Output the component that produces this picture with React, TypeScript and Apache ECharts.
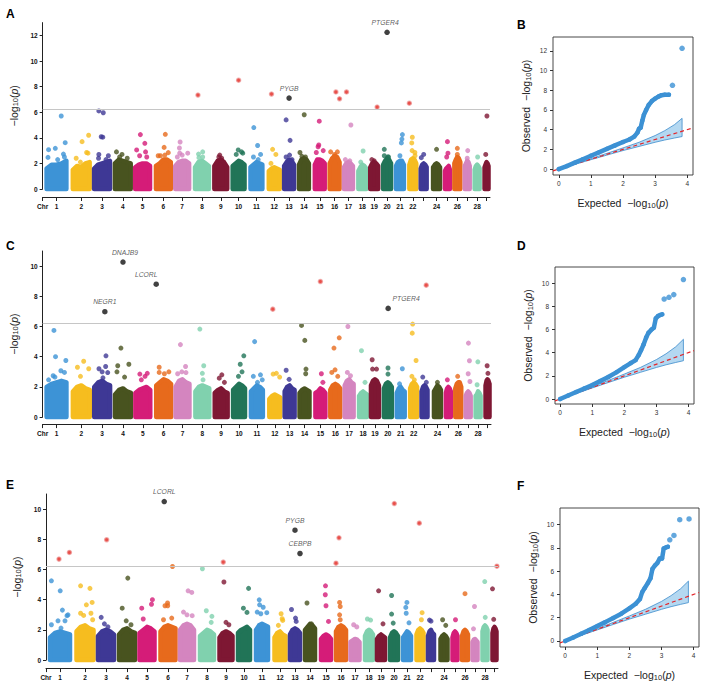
import React, { useEffect, useRef } from 'react';
import * as echarts from 'echarts';

const FONT = 'Liberation Sans, Arial, Helvetica, sans-serif';

// ---------- chromosome layout (axis units) ----------
const chrCenter = [14, 39, 60, 81, 101, 122, 141, 161, 180, 198, 216, 234, 249, 264, 280, 295, 309, 323, 335, 348, 361, 374, 385, 398, 409, 419, 429, 439, 448.5];
const chrWidth = [20, 17, 16, 16, 15, 15, 14, 14, 13, 12, 12, 11, 10, 10, 10, 10, 9, 8, 8, 8, 8, 7, 6, 7, 5, 6, 5, 5, 4];
const chrTickText = ['1', '2', '3', '4', '5', '6', '7', '8', '9', '10', '11', '12', '13', '14', '15', '16', '17', '18', '19', '20', '21', '22', '', '24', '', '26', '', '28', ''];
const chrColors = ['#3D93D6', '#F6BD1F', '#3E3895', '#48531F', '#D51C78', '#E76A1C', '#D485BF', '#80D1AE', '#7E1733', '#217457'];

const yTicks13 = [0, 2, 4, 6, 8, 10, 12];
const yTicks11 = [0, 2, 4, 6, 8, 10];
const qqXTicks = [0, 1, 2, 3, 4];
const threshold = 6.2;

// ---------- Panel A ----------
const massA = [
  [1.6, 1.9, 1.9, 2.0, 2.2], [1.5, 1.8, 1.7, 2.0, 2.1], [1.6, 1.9, 2.0, 2.1, 2.2], [2.0, 2.3, 2.2, 2.1, 2.0],
  [1.7, 1.9, 2.0, 2.0, 1.8], [1.8, 2.0, 2.3, 2.3, 2.1], [1.8, 2.1, 2.2, 2.2, 2.0], [1.7, 2.1, 2.2, 2.0, 1.8],
  [1.8, 2.2, 2.3, 2.1, 1.7], [1.8, 2.0, 2.2, 2.1, 1.9], [1.7, 1.9, 2.1, 2.0, 1.9], [1.4, 1.6, 1.7, 1.6, 1.5],
  [1.8, 2.1, 2.3, 2.2, 1.9], [1.9, 2.3, 2.4, 2.3, 2.0], [1.9, 2.3, 2.3, 2.2, 2.0], [2.0, 2.4, 2.6, 2.5, 2.1],
  [1.7, 2.0, 2.1, 2.0, 1.8], [1.4, 1.7, 1.9, 1.8, 1.6], [1.7, 2.0, 2.1, 2.0, 1.8], [1.9, 2.2, 2.4, 2.3, 2.0],
  [1.8, 2.1, 2.2, 2.2, 1.9], [1.9, 2.3, 2.4, 2.3, 2.0], [1.6, 1.9, 2.0, 1.9, 1.7], [1.7, 1.9, 2.0, 1.9, 1.7],
  [1.4, 1.6, 1.7, 1.8, 1.5], [2.0, 2.3, 2.5, 2.4, 2.1], [1.8, 2.0, 2.2, 2.1, 1.8], [1.5, 1.8, 1.9, 1.8, 1.6],
  [1.7, 1.9, 2.1, 2.0, 1.8],
];
const hitsA = [
  [1, 0.1, 3.07], [1, 0.07, 2.47], [1, 0.44, 3.18], [1, 0.74, 5.7], [1, 0.94, 3.62], [1, 0.85, 2.73], [1, 0.9, 2.5], [1, 0.56, 2.3],
  [2, 0.2, 2.4], [2, 0.55, 3.7], [2, 0.94, 4.2], [2, 0.82, 2.85], [2, 0.9, 2.8], [2, 0.45, 2.1],
  [3, 0.3, 6.1], [3, 0.58, 5.96], [3, 0.45, 4.08], [3, 0.55, 4.05], [3, 0.3, 2.7], [3, 0.28, 2.4], [3, 0.9, 2.6], [3, 0.75, 2.3],
  [4, 0.1, 2.9], [4, 0.45, 2.7], [4, 0.3, 2.5], [4, 0.78, 2.4],
  [5, 0.35, 4.25], [5, 0.65, 3.57], [5, 0.1, 3.05], [5, 0.3, 2.6], [5, 0.7, 2.9], [5, 0.78, 2.5],
  [6, 0.63, 4.27], [6, 0.55, 3.25], [6, 0.83, 2.84], [6, 0.15, 2.6], [6, 0.3, 2.6], [6, 0.6, 2.65],
  [7, 0.35, 3.67], [7, 0.3, 3.2], [7, 0.32, 2.8], [7, 0.5, 2.65], [7, 0.9, 2.8], [7, 0.15, 2.5],
  [8, 0.25, 2.73], [8, 0.55, 2.9], [8, 0.55, 2.5], [8, 0.28, 2.45],
  [9, 0.35, 2.5], [9, 0.42, 2.65], [9, 0.57, 2.4],
  [10, 0.47, 3.05], [10, 0.3, 2.7], [10, 0.75, 2.9], [10, 0.85, 2.8],
  [11, 0.28, 4.8], [11, 0.6, 3.4], [11, 0.25, 2.5], [11, 0.85, 2.7], [11, 0.65, 2.3],
  [12, 0.35, 3.1], [12, 0.65, 2.7], [12, 0.2, 2.0],
  [13, 0.2, 5.4], [13, 0.6, 3.8], [13, 0.2, 2.5], [13, 0.55, 2.65], [13, 0.8, 2.3],
  [14, 0.53, 5.8], [14, 0.1, 2.85], [14, 0.3, 2.55], [14, 0.65, 2.5],
  [15, 0.45, 5.3], [15, 0.4, 3.44], [15, 0.33, 3.3], [15, 0.15, 2.85], [15, 0.85, 3.0],
  [16, 0.1, 2.9], [16, 0.78, 2.9], [16, 0.5, 2.7],
  [17, 0.77, 5.0], [17, 0.15, 2.3], [17, 0.65, 2.2],
  [18, 0.6, 2.97], [18, 0.3, 2.1],
  [19, 0.2, 2.3], [19, 0.5, 2.2],
  [20, 0.15, 3.1], [20, 0.15, 2.6], [20, 0.6, 2.5], [20, 0.68, 2.5],
  [21, 0.81, 4.25], [21, 0.75, 3.9], [21, 0.68, 3.6], [21, 0.5, 2.6],
  [22, 0.43, 4.04], [22, 0.35, 3.6], [22, 0.4, 3.0], [22, 0.8, 2.85], [22, 0.82, 2.6],
  [23, 0.5, 2.7], [23, 0.1, 2.45],
  [24, 0.5, 3.1],
  [25, 0.5, 3.7], [25, 0.6, 2.8], [25, 0.35, 2.5],
  [26, 0.5, 3.18], [26, 0.5, 2.7],
  [27, 0.6, 3.0], [27, 0.5, 2.4],
  [28, 0.6, 2.5],
  [29, 0.6, 5.7], [29, 0.3, 2.7],
];
const sigA = [[8, 0.21, 7.34], [10, 0.5, 8.5], [12, 0.25, 7.42], [16, 0.63, 7.58], [16, 1.0, 7.05], [17, 0.28, 7.58], [19, 0.87, 6.4], [22, 0.0, 6.7]];
const genesA: [number, number, number, string][] = [[13, 0.5, 7.1, 'PYGB'], [20, 0.5, 12.24, 'PTGER4']];

// ---------- Panel C ----------
const massC = [
  [2.0, 2.2, 2.3, 2.4, 2.3], [1.7, 2.0, 2.1, 1.9, 1.8], [2.0, 2.3, 2.4, 2.2, 2.1], [1.5, 1.8, 1.9, 1.7, 1.6],
  [1.6, 1.8, 1.9, 2.0, 1.8], [2.1, 2.3, 2.5, 2.4, 2.2], [2.0, 2.4, 2.5, 2.3, 2.2], [1.7, 2.0, 2.1, 2.0, 1.9],
  [1.6, 1.8, 1.9, 1.7, 1.6], [1.8, 2.0, 2.2, 2.1, 1.9], [1.7, 1.9, 2.1, 2.0, 1.8], [1.2, 1.4, 1.5, 1.4, 1.3],
  [1.7, 2.0, 2.1, 1.9, 1.8], [1.6, 1.8, 1.9, 1.8, 1.7], [1.6, 1.7, 1.9, 1.8, 1.6], [1.8, 2.1, 2.2, 2.1, 1.9],
  [2.1, 2.4, 2.5, 2.3, 2.2], [1.4, 1.6, 1.7, 1.6, 1.5], [2.1, 2.4, 2.5, 2.4, 2.1], [1.9, 2.2, 2.3, 2.2, 2.0],
  [1.6, 1.9, 2.0, 1.8, 1.7], [1.9, 2.2, 2.3, 2.2, 2.0], [1.7, 2.0, 2.1, 2.0, 1.8], [1.7, 1.9, 2.1, 2.0, 1.8],
  [1.6, 1.9, 2.0, 1.9, 1.7], [1.9, 2.2, 2.3, 2.3, 2.0], [1.4, 1.6, 1.7, 1.6, 1.4], [1.4, 1.5, 1.7, 1.6, 1.4],
  [2.1, 2.4, 2.5, 2.4, 2.2],
];
const hitsC = [
  [1, 0.37, 5.74], [1, 0.45, 4.0], [1, 0.97, 3.75], [1, 0.72, 3.07], [1, 0.9, 2.96], [1, 0.33, 2.74], [1, 0.42, 2.65], [1, 0.1, 2.47],
  [2, 0.27, 3.3], [2, 0.64, 3.7], [2, 0.94, 3.2], [2, 0.45, 2.7],
  [3, 0.74, 4.06], [3, 0.3, 3.2], [3, 0.72, 3.35], [3, 0.5, 3.0], [3, 0.85, 2.95], [3, 0.55, 2.6],
  [4, 0.37, 4.57], [4, 0.87, 3.5], [4, 0.17, 3.4], [4, 0.12, 3.0], [4, 0.6, 2.65],
  [5, 0.8, 2.9], [5, 0.3, 2.85], [5, 0.65, 2.7], [5, 0.4, 2.47],
  [6, 0.2, 3.3], [6, 0.2, 2.96], [6, 0.55, 2.87], [6, 0.85, 3.0],
  [7, 0.35, 4.8], [7, 0.72, 3.35], [7, 0.45, 3.0], [7, 0.15, 2.87], [7, 0.75, 2.95],
  [8, 0.32, 5.83], [8, 0.6, 3.4], [8, 0.5, 2.9], [8, 0.55, 2.47],
  [9, 0.55, 2.8], [9, 0.35, 2.58], [9, 0.75, 2.3],
  [10, 0.9, 4.06], [10, 0.6, 3.5], [10, 0.75, 3.0], [10, 0.45, 2.7],
  [11, 0.31, 5.0], [11, 0.2, 2.7], [11, 0.8, 2.8], [11, 0.55, 2.3], [11, 0.95, 2.47],
  [12, 0.65, 2.9], [12, 0.35, 2.85], [12, 0.95, 2.65],
  [13, 0.15, 3.1], [13, 0.45, 2.5],
  [14, 0.2, 6.07], [14, 0.53, 5.08], [14, 0.65, 3.18], [14, 0.62, 2.87],
  [15, 0.6, 2.87], [15, 0.75, 2.3],
  [16, 0.9, 5.25], [16, 0.37, 4.57], [16, 0.15, 2.96], [16, 0.48, 3.13], [16, 0.75, 2.7],
  [17, 0.36, 6.0], [17, 0.3, 2.96], [17, 0.65, 2.74],
  [18, 0.3, 4.4], [18, 0.75, 2.3],
  [19, 0.15, 3.8], [19, 0.2, 3.18], [19, 0.7, 3.18],
  [20, 0.52, 3.25], [20, 0.52, 2.85],
  [21, 0.7, 3.2], [21, 0.35, 2.2],
  [22, 0.36, 6.16], [22, 0.3, 5.56], [22, 0.85, 3.75], [22, 0.25, 2.7], [22, 0.6, 2.47],
  [23, 0.2, 2.65], [23, 0.8, 2.3],
  [24, 0.5, 2.3],
  [25, 0.3, 2.47],
  [26, 0.4, 2.7],
  [27, 0.55, 4.9], [27, 0.75, 3.73], [27, 0.5, 2.87], [27, 0.85, 2.36],
  [28, 0.45, 3.66], [28, 0.3, 2.14],
  [29, 0.4, 3.4], [29, 0.6, 2.9],
];
const sigC = [[12, 0.32, 7.15], [15, 0.5, 8.98], [23, 0.78, 8.74]];
const genesC: [number, number, number, string][] = [[3, 0.67, 6.98, 'NEGR1'], [4, 0.5, 10.27, 'DNAJB9'], [6, 0.0, 8.8, 'LCORL'], [20, 0.54, 7.2, 'PTGER4']];

// ---------- Panel E ----------
const massE = [
  [1.5, 1.8, 1.9, 1.8, 1.7], [1.9, 2.2, 2.3, 2.1, 2.0], [1.6, 1.9, 2.0, 1.9, 1.7], [1.7, 2.0, 2.1, 1.9, 1.8],
  [1.8, 2.0, 2.2, 2.1, 1.9], [1.9, 2.2, 2.3, 2.2, 2.1], [2.0, 2.3, 2.4, 2.3, 2.0], [1.6, 1.8, 2.0, 1.9, 1.7],
  [1.5, 1.8, 1.9, 1.8, 1.6], [1.8, 2.0, 2.1, 2.2, 2.0], [2.0, 2.3, 2.4, 2.3, 2.2], [1.5, 1.8, 1.9, 1.7, 1.6],
  [1.7, 2.0, 2.1, 2.0, 1.8], [2.0, 2.2, 2.4, 2.3, 2.1], [1.4, 1.6, 1.7, 1.6, 1.4], [1.9, 2.2, 2.3, 2.2, 2.0],
  [1.2, 1.3, 1.4, 1.35, 1.2], [1.6, 1.9, 2.0, 1.9, 1.7], [1.4, 1.6, 1.7, 1.6, 1.5], [1.5, 1.8, 1.9, 1.8, 1.6],
  [1.5, 1.7, 1.9, 1.8, 1.6], [1.7, 2.0, 2.1, 2.0, 1.8], [1.6, 1.9, 2.0, 1.8, 1.7], [1.4, 1.6, 1.7, 1.6, 1.4],
  [1.5, 1.8, 1.9, 1.8, 1.6], [1.6, 1.9, 2.0, 1.9, 1.7], [1.2, 1.35, 1.4, 1.3, 1.2], [1.9, 2.2, 2.3, 2.2, 2.0],
  [1.8, 2.1, 2.2, 2.1, 1.9],
];
const hitsE = [
  [1, 0.07, 5.25], [1, 0.51, 4.59], [1, 0.62, 3.31], [1, 0.85, 2.94], [1, 0.9, 3.0], [1, 0.4, 2.6], [1, 0.75, 2.6], [1, 0.07, 2.34], [1, 0.55, 2.12],
  [2, 0.24, 4.92], [2, 0.79, 4.75], [2, 0.58, 3.66], [2, 0.92, 3.82], [2, 0.24, 3.1], [2, 0.42, 2.96], [2, 0.85, 3.1], [2, 0.95, 2.67],
  [3, 0.2, 2.83], [3, 0.4, 2.4], [3, 0.62, 2.2],
  [4, 0.55, 5.43], [4, 0.2, 3.44], [4, 0.45, 2.6], [4, 0.75, 2.34],
  [5, 0.86, 4.0], [5, 0.8, 3.7], [5, 0.15, 3.44], [5, 0.25, 2.72],
  [6, 0.8, 6.2], [6, 0.47, 3.78], [6, 0.3, 3.6], [6, 0.48, 3.6], [6, 0.75, 2.78], [6, 0.2, 2.67],
  [7, 0.58, 4.59], [7, 0.84, 4.48], [7, 0.25, 3.18], [7, 0.5, 3.0], [7, 0.87, 2.94],
  [8, 0.17, 6.05], [8, 0.45, 3.27], [8, 0.85, 2.9], [8, 0.8, 2.5],
  [9, 0.34, 5.17], [9, 0.5, 2.5], [9, 0.72, 2.34],
  [10, 0.88, 4.75], [10, 0.45, 3.44], [10, 0.75, 3.16],
  [11, 0.27, 3.99], [11, 0.3, 3.66], [11, 0.6, 3.5], [11, 0.1, 3.18], [11, 0.9, 3.14], [11, 0.4, 3.07],
  [12, 0.6, 3.07], [12, 0.75, 2.63], [12, 0.35, 2.3], [12, 0.7, 2.74],
  [13, 0.15, 3.35], [13, 0.55, 2.78], [13, 0.62, 2.56],
  [14, 0.2, 3.78], [14, 0.65, 2.4],
  [15, 0.45, 4.92], [15, 0.43, 4.33], [15, 0.5, 3.6], [15, 0.75, 2.56],
  [16, 0.36, 3.82], [16, 0.42, 3.55], [16, 0.36, 3.0], [16, 0.42, 2.67],
  [17, 0.35, 2.34], [17, 0.7, 2.2],
  [18, 0.3, 2.72], [18, 0.7, 2.65],
  [19, 0.2, 4.59], [19, 0.75, 2.4],
  [20, 0.2, 4.28], [20, 0.2, 3.05], [20, 0.4, 2.45],
  [21, 0.49, 3.82], [21, 0.35, 3.49], [21, 0.4, 3.1], [21, 0.75, 2.47],
  [22, 0.8, 3.14], [22, 0.7, 2.67],
  [23, 0.25, 2.65], [23, 0.5, 2.58],
  [24, 0.3, 2.67], [24, 0.75, 2.3],
  [25, 0.6, 2.67],
  [26, 0.5, 4.4],
  [27, 0.4, 3.55], [27, 0.2, 2.07],
  [28, 0.45, 5.2], [28, 0.55, 2.83],
  [29, 0.0, 4.72], [29, 0.3, 2.7],
];
const sigE = [[1, 0.45, 6.69], [1, 0.97, 7.13], [3, 0.54, 7.97], [9, 0.29, 6.49], [16, 0.0, 6.42], [16, 0.3, 8.1], [20, 0.54, 10.37], [22, 0.4, 9.07], [29, 1.1, 6.22]];
const genesE: [number, number, number, string][] = [[6, 0.25, 10.5, 'LCORL'], [13, 0.5, 8.6, 'PYGB'], [13, 1.0, 7.06, 'CEBPB']];

// ---------- QQ plots ----------
const qqB = [[0, 0], [0.25, 0.3], [0.5, 0.65], [0.75, 1.0], [1, 1.35], [1.25, 1.7], [1.5, 2.05], [1.75, 2.4], [2, 2.75], [2.2, 3.0], [2.35, 3.3], [2.45, 3.7], [2.5, 4.1], [2.55, 4.2], [2.6, 4.9], [2.65, 5.5], [2.72, 6.0], [2.8, 6.5], [2.9, 6.9], [3.0, 7.15], [3.1, 7.35], [3.2, 7.5], [3.3, 7.55], [3.43, 7.55]];
const qqBTail = [[3.54, 8.5], [3.84, 12.25]];
const qqD = [[0, 0], [0.25, 0.3], [0.5, 0.6], [0.75, 0.9], [1, 1.2], [1.25, 1.55], [1.5, 1.9], [1.75, 2.3], [2, 2.75], [2.2, 3.1], [2.35, 3.35], [2.45, 3.8], [2.52, 4.2], [2.6, 4.7], [2.68, 5.3], [2.75, 5.7], [2.85, 6.0], [2.92, 6.15], [2.98, 6.95], [3.05, 7.15], [3.12, 7.25], [3.18, 7.3]];
const qqDTail = [[3.24, 8.62], [3.39, 8.77], [3.54, 9.0], [3.84, 10.3]];
const qqF = [[0, 0], [0.25, 0.3], [0.5, 0.62], [0.75, 0.95], [1, 1.28], [1.25, 1.62], [1.5, 1.98], [1.75, 2.35], [2, 2.8], [2.2, 3.2], [2.33, 3.6], [2.4, 4.2], [2.48, 4.55], [2.58, 5.0], [2.66, 5.4], [2.72, 6.2], [2.8, 6.5], [2.87, 6.7], [2.95, 7.1], [3.02, 7.1], [3.07, 7.95], [3.14, 8.05], [3.2, 8.1]];
const qqFTail = [[3.26, 8.7], [3.39, 9.08], [3.57, 10.43], [3.86, 10.5]];
const ciX = [0, 0.5, 1, 1.5, 2, 2.5, 3, 3.3, 3.6, 3.84];
const ciUpper = [0.02, 0.53, 1.06, 1.6, 2.15, 2.72, 3.4, 3.9, 4.5, 5.15];
const ciLower = [0, 0.48, 0.95, 1.42, 1.88, 2.3, 2.72, 2.95, 3.15, 3.3];

// ---------- styles ----------
const labelShift: Record<string, number> = { 'A-PTGER4': -2, 'C-LCORL': -10, 'C-PTGER4': 18, 'C-DNAJB9': 2 };

const xPos = (chr: number, rel: number) => chrCenter[chr - 1] + (rel - 0.5) * chrWidth[chr - 1];

const richName = {
  t: { fontSize: 10.5, color: '#222', fontFamily: FONT },
  s: { fontSize: 7.5, color: '#222', fontFamily: FONT, verticalAlign: 'bottom', padding: [4, 0, 0, 0] },
  i: { fontSize: 10.5, color: '#222', fontFamily: FONT, fontStyle: 'italic' },
};
const logName = (prefix: string) => `{t|${prefix}−log}{s|10}{t|(}{i|p}{t|)}`;

function buildOption() {
  const manLayout = [
    { left: 38, top: 22.6, height: 166.4, ymax: 13, ticks: yTicks13, offset: 8 },
    { left: 39, top: 251, height: 166.1, ymax: 11, ticks: yTicks11, offset: 7 },
    { left: 46, top: 494, height: 166.1, ymax: 11, ticks: yTicks11, offset: 8 },
  ];
  const qqLayout = [
    { left: 553, top: 37, width: 140, height: 138, xmin: -0.18, xmax: 4.18, ymin: -0.6, ymax: 13.4, ticks: yTicks13, gap: 21 },
    { left: 555, top: 267, width: 139, height: 137, xmin: -0.16, xmax: 4.17, ymin: -0.43, ymax: 11.38, ticks: yTicks11, gap: 21 },
    { left: 560, top: 508, width: 139, height: 139, xmin: -0.16, xmax: 4.17, ymin: -0.52, ymax: 11.44, ticks: yTicks11, gap: 21 },
  ];
  const manTickVals = [0, ...chrCenter];
  const manLabel = (v: number) => {
    if (v === 0) return 'Chr';
    const i = chrCenter.indexOf(v);
    return i >= 0 ? chrTickText[i] : '';
  };

  const grid: any[] = [];
  const xAxis: any[] = [];
  const yAxis: any[] = [];
  const series: any[] = [];

  const manData = [
    { mass: massA, hits: hitsA, sig: sigA, genes: genesA, panel: 'A' },
    { mass: massC, hits: hitsC, sig: sigC, genes: genesC, panel: 'C' },
    { mass: massE, hits: hitsE, sig: sigE, genes: genesE, panel: 'E' },
  ];

  manLayout.forEach((L, gi) => {
    grid.push({ left: L.left, top: L.top, width: 452, height: L.height, containLabel: false });
    xAxis.push({
      type: 'value', gridIndex: gi, min: 0, max: 452, offset: L.offset,
      axisLine: { show: true, onZero: false, lineStyle: { color: '#222', width: 1 } },
      axisTick: { show: true, customValues: manTickVals, length: 4, lineStyle: { color: '#222', width: 1 } },
      axisLabel: { show: true, customValues: manTickVals, formatter: manLabel, fontSize: 6.5, fontWeight: 'bold', color: '#111', margin: 6, fontFamily: FONT, hideOverlap: false },
      splitLine: { show: false },
    });
    yAxis.push({
      type: 'value', gridIndex: gi, min: 0, max: L.ymax,
      axisLine: { show: true, onZero: false, lineStyle: { color: '#222', width: 1 } },
      axisTick: { show: true, customValues: L.ticks, length: 3, lineStyle: { color: '#222' } },
      axisLabel: { show: true, customValues: L.ticks, fontSize: 6.5, fontWeight: 'bold', color: '#111', margin: 5, fontFamily: FONT },
      splitLine: { show: false },
      name: logName(''), nameLocation: 'middle', nameGap: 22,
      nameTextStyle: { rich: richName },
    });
    const D = manData[gi];
    series.push({
      type: 'custom', xAxisIndex: gi, yAxisIndex: gi, silent: true, clip: false, z: 1,
      data: D.mass.map((row, i) => [chrCenter[i], row[0], row[1], row[2], row[3], row[4], i]),
      renderItem: (params: any, api: any) => {
        const i = api.value(6) as number;
        const c = chrCenter[i];
        const w = chrWidth[i];
        const left = c - w / 2;
        const pts: number[][] = [api.coord([left, 0])];
        for (let k = 0; k < 5; k++) pts.push(api.coord([left + (w * k) / 4, api.value(1 + k)]));
        pts.push(api.coord([left + w, 0]));
        const col = chrColors[i % 10];
        return { type: 'polygon', shape: { points: pts }, style: { fill: col, stroke: col, lineWidth: 4.5, lineJoin: 'round' } };
      },
    });
    series.push({
      type: 'scatter', xAxisIndex: gi, yAxisIndex: gi, silent: true, z: 2, symbolSize: 5,
      data: D.hits.map(([c, r, v]) => ({ value: [xPos(c, r), v], itemStyle: { color: chrColors[(c - 1) % 10] } })),
      markLine: {
        silent: true, symbol: 'none', label: { show: false },
        lineStyle: { color: '#c6c6c6', type: 'solid', width: 1 },
        data: [{ yAxis: threshold }],
      },
    });
    series.push({
      type: 'scatter', xAxisIndex: gi, yAxisIndex: gi, silent: true, z: 3, symbolSize: 4.2,
      itemStyle: { color: '#E3231B', borderColor: 'rgba(236,150,150,0.85)', borderWidth: 1.3 },
      data: D.sig.map(([c, r, v]) => [xPos(c, r), v]),
    });
    series.push({
      type: 'scatter', xAxisIndex: gi, yAxisIndex: gi, silent: true, z: 4, symbolSize: 5.5,
      itemStyle: { color: '#111' },
      data: D.genes.map(([c, r, v, g]) => ({
        value: [xPos(c, r), v],
        label: {
          show: true, formatter: g, position: 'top', distance: 3.5,
          offset: [labelShift[`${D.panel}-${g}`] || 0, 0],
          fontSize: 6.8, fontStyle: 'italic', color: '#333', fontFamily: FONT,
        },
      })),
    });
  });

  const qqData = [
    { pts: qqB, tail: qqBTail },
    { pts: qqD, tail: qqDTail },
    { pts: qqF, tail: qqFTail },
  ];
  qqLayout.forEach((L, k) => {
    const gi = 3 + k;
    grid.push({ left: L.left, top: L.top, width: L.width, height: L.height, show: true, borderColor: '#333', borderWidth: 0.9, backgroundColor: 'transparent' });
    xAxis.push({
      type: 'value', gridIndex: gi, min: L.xmin, max: L.xmax,
      axisLine: { show: false, onZero: false },
      axisTick: { show: true, customValues: qqXTicks, length: 3, lineStyle: { color: '#333' } },
      axisLabel: { show: true, customValues: qqXTicks, fontSize: 6.5, color: '#333', margin: 5, fontFamily: FONT },
      splitLine: { show: false },
      name: logName('Expected  '), nameLocation: 'middle', nameGap: 22,
      nameTextStyle: { rich: richName },
    });
    yAxis.push({
      type: 'value', gridIndex: gi, min: L.ymin, max: L.ymax,
      axisLine: { show: false, onZero: false },
      axisTick: { show: true, customValues: L.ticks, length: 3, lineStyle: { color: '#333' } },
      axisLabel: { show: true, customValues: L.ticks, fontSize: 6.5, color: '#333', margin: 6, fontFamily: FONT },
      splitLine: { show: false },
      name: logName('Observed  '), nameLocation: 'middle', nameGap: L.gap,
      nameTextStyle: { rich: richName },
    });
    series.push({
      type: 'custom', xAxisIndex: gi, yAxisIndex: gi, silent: true, z: 1,
      data: [[0, 0]],
      renderItem: (params: any, api: any) => {
        const pts: number[][] = [];
        ciX.forEach((x, j) => pts.push(api.coord([x, ciUpper[j]])));
        for (let j = ciX.length - 1; j >= 0; j--) pts.push(api.coord([ciX[j], ciLower[j]]));
        return { type: 'polygon', shape: { points: pts }, style: { fill: '#B4D8F1', stroke: '#3C8CCB', lineWidth: 0.8 } };
      },
    });
    series.push({
      type: 'line', xAxisIndex: gi, yAxisIndex: gi, silent: true, z: 2, showSymbol: false,
      data: [[L.xmin, L.xmin], [L.xmax, L.xmax]],
      lineStyle: { color: '#E2262B', type: [4, 3], width: 1.2 },
    });
    series.push({
      type: 'line', xAxisIndex: gi, yAxisIndex: gi, silent: true, z: 3, showSymbol: true,
      symbol: 'circle', symbolSize: 4.5,
      itemStyle: { color: '#3C91D4' },
      lineStyle: { color: '#3C91D4', width: 4.5, cap: 'round', join: 'round' },
      data: qqData[k].pts,
    });
    series.push({
      type: 'scatter', xAxisIndex: gi, yAxisIndex: gi, silent: true, z: 4, symbolSize: 5.5,
      itemStyle: { color: '#3C91D4' },
      data: qqData[k].tail,
    });
  });

  const letter = (t: string, left: number, top: number) => ({
    type: 'text', left, top, silent: true,
    style: { text: t, fill: '#000', font: `bold 12px ${FONT}` },
  });

  return {
    animation: false,
    backgroundColor: '#ffffff',
    textStyle: { fontFamily: FONT },
    grid, xAxis, yAxis, series,
    graphic: [
      letter('A', 6, 7.5), letter('B', 517, 18.5),
      letter('C', 6, 239.5), letter('D', 517, 239.5),
      letter('E', 6, 478.5), letter('F', 517, 479.5),
    ],
  };
}

export default function App() {
  const ref = useRef<HTMLDivElement>(null);
  useEffect(() => {
    document.body.style.margin = '0';
    const chart = echarts.init(ref.current!, null, { renderer: 'svg' });
    chart.setOption(buildOption() as any);
    return () => chart.dispose();
  }, []);
  return <div ref={ref} style={{ width: 708, height: 689 }} />;
}
